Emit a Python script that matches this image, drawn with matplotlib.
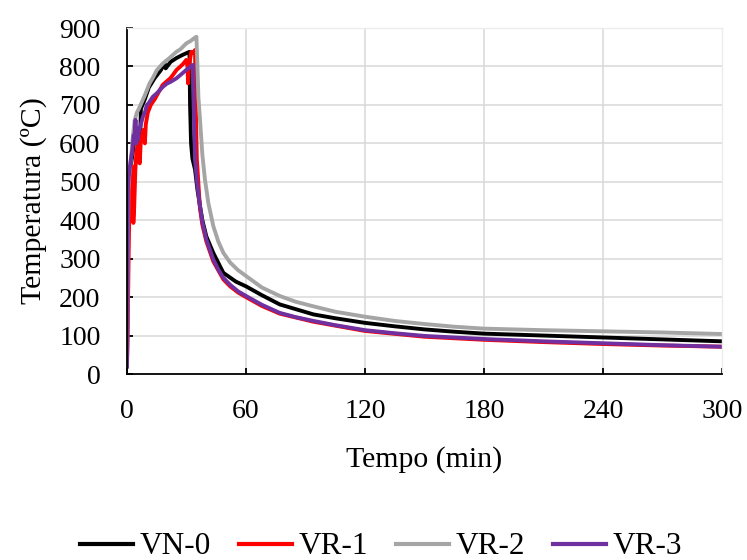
import matplotlib
matplotlib.use("Agg")
import matplotlib.pyplot as plt

plt.rcParams['font.family'] = ['Liberation Serif', 'DejaVu Serif']

# ---- data ----
vn0_t = [0, 0.3, 0.6, 1.0, 2, 3, 4, 5, 6, 6.4, 7, 9, 11, 14, 17, 19, 19.5, 22, 25, 28, 31.5,
         31.8, 32.3, 33, 34.3, 35.5, 36.8, 38, 40, 43.5, 48.6, 55, 60, 68, 77, 94, 105, 120,
         135, 150, 165, 180, 210, 240, 270, 300]
vn0_T = [20, 200, 450, 510, 545, 580, 620, 640, 600, 560, 690, 715, 745, 770, 790, 808, 795, 812, 822, 830, 838,
         700, 600, 560, 532, 480, 437, 400, 358, 315, 263, 240, 228, 205, 181, 155, 145, 133,
         124, 116, 110, 105, 100, 95, 90, 85]

vr1_t = [0, 0.3, 0.8, 1.3, 2, 2.8, 3.2, 3.6, 4.2, 4.8, 5.5, 6, 6.4, 7, 8.3, 9, 9.5, 10.5, 12, 14,
         18, 22, 25, 28, 29.9, 30.5, 30.8, 31.2, 32.4, 33.5, 34.3,
         34.6, 35.2, 36.8, 38, 40, 43.5, 48.6, 52, 56, 60, 68, 77, 94, 120, 150, 180, 210, 240, 270, 300]
vr1_T = [20, 100, 300, 470, 520, 540, 393, 430, 530, 580, 600, 560, 548, 610, 635, 600, 650, 680, 700, 715,
         752, 770, 791, 805, 817, 800, 756, 800, 838, 835, 843,
         720, 560, 430, 388, 345, 293, 246, 228, 212, 200, 177, 157, 136, 112, 97, 89, 83, 78, 74, 71]

vr2_t = [0, 0.3, 0.7, 1.2, 2, 3, 3.9, 5, 6, 7.2, 9, 11.4, 13, 15, 18.1, 21, 24.9, 27, 29.9, 32, 33.5, 34.8,
         35.0, 35.5, 36, 36.8, 38, 39.3, 41, 43.5, 46, 48.6, 52, 56, 60, 68, 77, 85, 94, 105, 120,
         135, 150, 165, 180, 210, 240, 270, 300]
vr2_T = [20, 250, 480, 520, 560, 620, 661, 680, 690, 704, 725, 756, 770, 790, 808, 820, 838, 845, 860, 866, 872, 877,
         877, 800, 720, 662, 570, 506, 445, 385, 345, 315, 290, 270, 255, 225, 203, 188, 176, 162, 149,
         138, 130, 123, 118, 114, 111, 108, 104]

vr3_t = [0, 0.2, 0.5, 1, 2, 2.8, 3.3, 3.9, 4.3, 4.7, 5.2, 5.5, 6, 7, 8, 9, 10, 11, 13, 15, 18.1, 20, 22,
         24.9, 27, 29.9, 31.5, 33.3,
         33.6, 34.3, 35.5, 36.8, 38, 40, 43.5, 46, 48.6, 52, 56, 60, 68, 77, 85, 94, 105, 120,
         135, 150, 165, 180, 210, 240, 270, 300]
vr3_T = [20, 200, 487, 520, 560, 585, 620, 626, 661, 600, 640, 610, 630, 650, 669, 680, 700, 705, 721, 730, 747, 755, 760,
         769, 778, 791, 797, 804,
         700, 558, 490, 437, 395, 350, 298, 272, 250, 232, 215, 203, 180, 159, 148, 138, 127, 114,
         106, 99, 95, 91, 85, 80, 75, 71]

series_names = ['VN-0', 'VR-1', 'VR-2', 'VR-3']
series_colors = ['#000000', '#ff0000', '#a5a5a5', '#7030a0']
x_ticks = [0, 60, 120, 180, 240, 300]
y_ticks = [0, 100, 200, 300, 400, 500, 600, 700, 800, 900]

fig = plt.figure(figsize=(7.47, 5.60), dpi=100)
ax = fig.add_axes([127 / 747, 1 - 374 / 560, (722 - 127) / 747, (374 - 28) / 560])

data = [(vn0_t, vn0_T), (vr1_t, vr1_T), (vr2_t, vr2_T), (vr3_t, vr3_T)]
for (t, T), name, c in zip(data, series_names, series_colors):
    ax.plot(t, T, color=c, lw=2.8, label=name, solid_joinstyle='round')

ax.set_xlim(0, 300)
ax.set_ylim(0, 900)
ax.set_xticks(x_ticks)
ax.set_yticks(y_ticks)
ax.grid(True, color='#d9d9d9', lw=1.1)
ax.set_axisbelow(True)
ax.yaxis.get_gridlines()[-1].set_visible(False)
ax.xaxis.get_gridlines()[-1].set_visible(False)
ax.xaxis.get_gridlines()[0].set_visible(False)
ax.yaxis.get_gridlines()[0].set_visible(False)

for s in ['left', 'bottom']:
    ax.spines[s].set_color('black')
    ax.spines[s].set_linewidth(1.3)
for s in ['top', 'right']:
    ax.spines[s].set_color('#ececec')
    ax.spines[s].set_linewidth(1.0)

ax.tick_params(axis='both', direction='in', length=4, width=1.3, labelsize=20, colors='black')
ax.tick_params(axis='x', pad=18)
ax.tick_params(axis='y', pad=19)

ax.set_xlabel('Tempo (min)', fontsize=21.5, labelpad=16)
ax.set_ylabel('Temperatura (ºC)', fontsize=21.5, labelpad=9)

leg = fig.legend(loc='center', bbox_to_anchor=(0.51, 1 - 547 / 560), ncol=4, frameon=False,
                 fontsize=22.5, handlelength=1.7, columnspacing=0.9, handletextpad=0.2)
for line in leg.get_lines():
    line.set_linewidth(3.0)

fig.savefig('out.png', dpi=100)
